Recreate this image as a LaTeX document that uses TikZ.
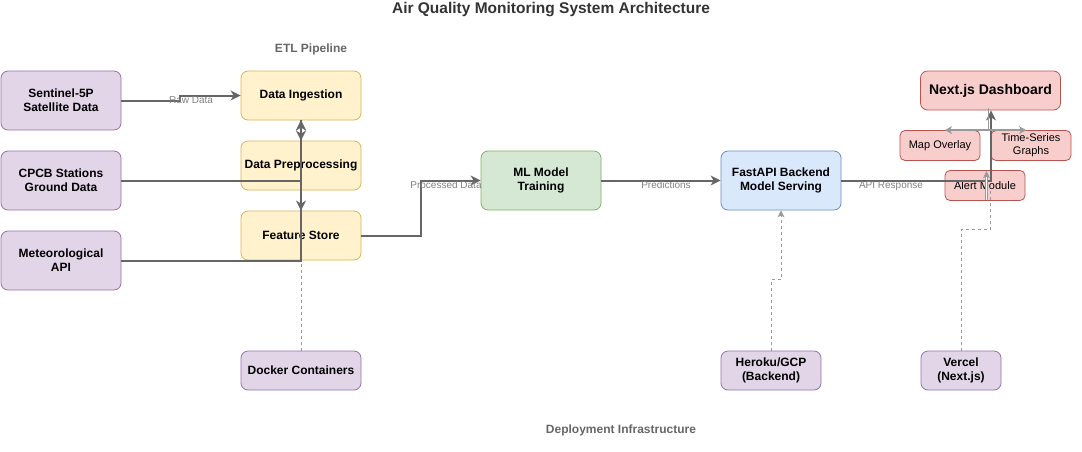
\documentclass[tikz,border=0pt]{standalone}
\usepackage{fontspec}
\setmainfont{Liberation Sans}
\usetikzlibrary{arrows.meta}
\definecolor{pfill}{HTML}{E1D5E7}\definecolor{pdraw}{HTML}{9673A6}
\definecolor{yfill}{HTML}{FFF2CC}\definecolor{ydraw}{HTML}{D6B656}
\definecolor{gfill}{HTML}{D5E8D4}\definecolor{gdraw}{HTML}{82B366}
\definecolor{bfill}{HTML}{DAE8FC}\definecolor{bdraw}{HTML}{6C8EBF}
\definecolor{rfill}{HTML}{F8CECC}\definecolor{rdraw}{HTML}{B85450}
\definecolor{edgec}{HTML}{666666}
\definecolor{labc}{HTML}{808080}
\definecolor{lightc}{HTML}{999999}
\definecolor{titlec}{HTML}{333333}
\begin{document}
\begin{tikzpicture}[x=1pt,y=-1pt,
  box/.style={draw, rounded corners=7pt, line width=0.8pt, inner sep=1pt, align=center,
    font=\fontsize{12}{14}\selectfont\bfseries},
  pbox/.style={box, fill=pfill, draw=pdraw},
  ybox/.style={box, fill=yfill, draw=ydraw},
  gbox/.style={box, fill=gfill, draw=gdraw},
  bbox/.style={box, fill=bfill, draw=bdraw},
  rbox/.style={box, fill=rfill, draw=rdraw},
  smallr/.style={rbox, rounded corners=5pt, font=\fontsize{11}{13}\selectfont},
  wh/.style 2 args={minimum width=#1pt, minimum height=#2pt},
  flow/.style={draw=edgec, line width=2pt, -{Stealth[length=10pt,width=10pt,inset=3pt]}},
  dep/.style={draw=lightc, line width=1pt, dash pattern=on 3pt off 3pt},
  thinarrow/.style={draw=lightc, line width=1.5pt, -{Stealth[length=7pt,width=8pt,inset=2pt]}},
  elabel/.style={font=\fontsize{10}{12}\selectfont, text=labc, inner sep=0pt},
  grouplabel/.style={font=\fontsize{12}{14}\selectfont\bfseries, text=edgec, inner sep=0pt}
]
\useasboundingbox (0,0) rectangle (1082,451);

\node[font=\fontsize{15.5}{18}\selectfont\bfseries, text=titlec, inner sep=0pt] (title) at (551,10) {Air Quality Monitoring System Architecture};
\node[grouplabel] (etl) at (311,49) {ETL Pipeline};
\node[grouplabel] (deploy) at (621,430) {Deployment Infrastructure};

% sources
\node[pbox, wh={120}{59}] (sent) at (61,100.5) {Sentinel-5P\\Satellite Data};
\node[pbox, wh={120}{59}] (cpcb) at (61,180.5) {CPCB Stations\\Ground Data};
\node[pbox, wh={120}{59}] (met) at (61,260.5) {Meteorological\\API};

% ETL
\node[ybox, wh={120}{49}] (ing) at (301,95.5) {Data Ingestion};
\node[ybox, wh={120}{49}] (pre) at (301,165.5) {Data Preprocessing};
\node[ybox, wh={120}{49}] (fs) at (301,235.5) {Feature Store};
\node[pbox, wh={120}{39}] (dock) at (301,370.5) {Docker Containers};

% ML and API
\node[gbox, wh={120}{59}] (ml) at (541,180.5) {ML Model\\Training};
\node[bbox, wh={120}{59}] (api) at (781,180.5) {FastAPI Backend\\Model Serving};
\node[pbox, wh={100}{39}] (her) at (771,370.5) {Heroku/GCP\\(Backend)};

% dashboard
\node[rbox, wh={140}{39}, font=\fontsize{14}{16}\selectfont\bfseries] (dash) at (990.5,90.5) {Next.js Dashboard};
\node[smallr, wh={80}{30}, font=\fontsize{11}{13}\selectfont] (map) at (940,145.5) {Map Overlay};
\node[smallr, wh={80}{30}, font=\fontsize{11}{13}\selectfont] (ts) at (1031,145.5) {Time-Series\\Graphs};
\node[smallr, wh={80}{30}, font=\fontsize{11}{13}\selectfont] (alert) at (985,185.5) {Alert Module};
\node[pbox, wh={80}{39}] (ver) at (961,370.5) {Vercel\\(Next.js)};

% deployment dashed links
\draw[dep] (dock.north) -- (fs.south);
\draw[dep, -{Stealth[length=7pt,width=7pt,inset=2pt]}] (her.north) -- ++(0,-71) -| ([xshift=10pt]her.north |- api.south);
\draw[dep] (ver.north) -- ++(0,-121) -| (dash.south);

% ETL flows
\draw[flow] (sent.east) -- ++(59,0) |- (ing.west)
  node[elabel] (lraw) at (191,100) {Raw Data};
\draw[flow] (cpcb.east) -| (ing.south);
\draw[flow] (met.east) -| (ing.south);
\draw[flow] (ing.south) -- (pre.north);
\draw[flow] (pre.south) -- (fs.north);
\draw[flow] (fs.east) -- ++(60,0) |- (ml.west)
  node[elabel] (lproc) at (446,185) {Processed Data};
\draw[flow] (ml.east) -- (api.west)
  node[elabel] (lpred) at (666,185) {Predictions};
\draw[flow] (api.east) -| ([xshift=0.5pt]dash.south)
  node[elabel] (lresp) at (891,186) {API Response};

% dashboard internals
\draw[thinarrow] ([xshift=-2pt,yshift=2pt]dash.south) |- ([xshift=5pt]map.north);
\draw[thinarrow] ([xshift=-2pt,yshift=2pt]dash.south) |- ([xshift=-5pt]ts.north);
\draw[draw=lightc, line width=0.8pt, double=white, double distance=1.6pt] ([xshift=1.5pt,yshift=-30pt]alert.north) -- ([xshift=1.5pt,yshift=-6pt]alert.north);
\draw[draw=lightc, line width=1pt, -{Stealth[length=7pt,width=7pt,inset=2pt]}] ([xshift=1.5pt,yshift=-7pt]alert.north) -- ([xshift=1.5pt,yshift=-1pt]alert.north);
\end{tikzpicture}
\end{document}
